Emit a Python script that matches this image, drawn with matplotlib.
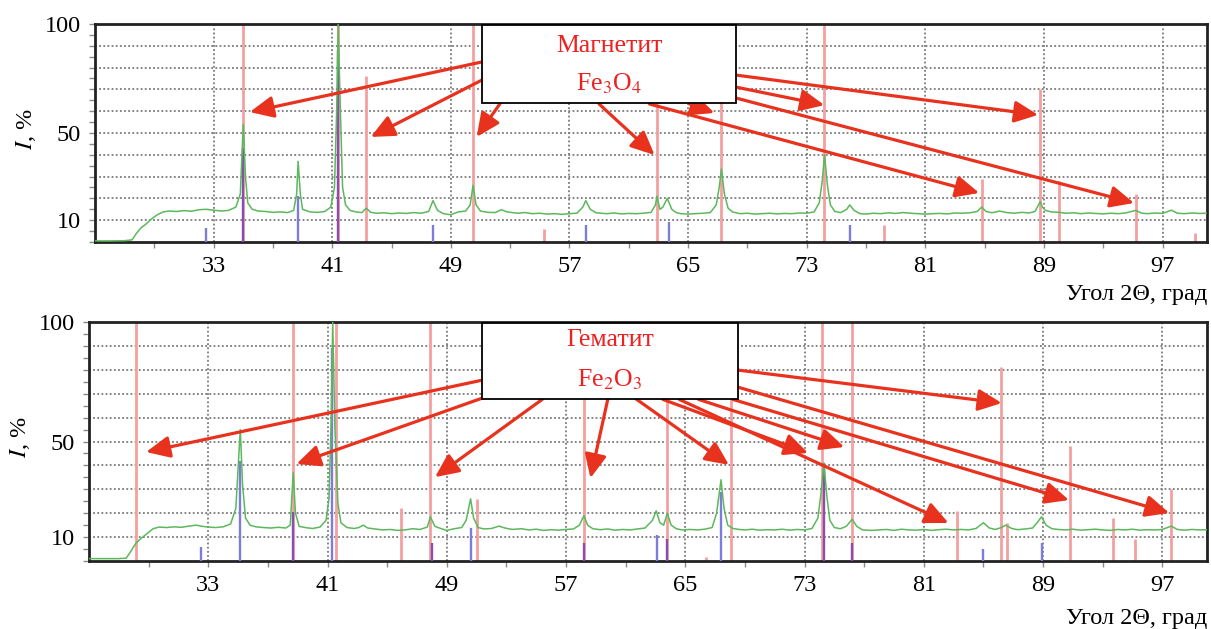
import matplotlib.pyplot as plt
from matplotlib.patches import Rectangle

plt.rcParams['font.family'] = ['Liberation Serif', 'DejaVu Serif']
plt.rcParams['mathtext.fontset'] = 'stix'

# ---------------- magnetite sample (top panel) ----------------
mag_theta = [25.0, 26.0, 27.0, 27.5, 27.8, 28.1, 28.4, 28.8, 29.2, 29.6, 30.0, 30.5, 31.0, 31.5,
             32.0, 32.5, 33.0, 33.5, 34.0, 34.5, 34.8, 35.0, 35.15, 35.3, 35.6, 36.0, 36.5, 37.0,
             37.5, 38.0, 38.4, 38.6, 38.7, 38.85, 39.0, 39.5, 40.0, 40.5, 40.9, 41.15, 41.3, 41.4,
             41.55, 41.7, 41.9, 42.2, 42.6, 43.0, 43.3, 43.6, 44.0, 44.5, 45.0, 45.5, 46.0, 46.5,
             47.0, 47.5, 47.8, 48.1, 48.5, 49.0, 49.5, 50.0, 50.3, 50.5, 50.7, 51.0, 51.5, 52.0,
             52.4, 52.8, 53.5, 54.0, 54.5, 55.0, 55.5, 56.0, 56.5, 57.0, 57.5, 57.9, 58.1, 58.4,
             58.8, 59.5, 60.0, 60.5, 61.0, 61.5, 62.0, 62.5, 62.8, 62.9, 63.1, 63.3, 63.6, 63.9,
             64.2, 64.5, 65.0, 65.5, 66.0, 66.5, 66.9, 67.1, 67.25, 67.45, 67.7, 68.0, 68.5, 69.0,
             69.5, 70.0, 70.5, 71.0, 71.5, 72.0, 72.5, 73.0, 73.5, 73.85, 74.05, 74.2, 74.4, 74.6,
             74.9, 75.3, 75.7, 75.9, 76.2, 76.6, 77.0, 77.5, 78.0, 78.5, 79.0, 79.5, 80.0, 80.5,
             81.0, 81.5, 82.0, 82.5, 83.0, 83.5, 84.0, 84.5, 84.8, 85.1, 85.5, 86.0, 86.5, 87.0,
             87.5, 88.0, 88.4, 88.75, 88.9, 89.1, 89.5, 90.0, 90.5, 91.0, 91.5, 92.0, 92.5, 93.0,
             93.5, 94.0, 94.5, 95.2, 95.6, 96.0, 96.5, 97.0, 97.6, 98.0, 98.5, 99.0, 99.5, 100.0]
mag_int = [0.5, 0.5, 0.6, 1.0, 4.0, 6.5, 8.0, 10.5, 12.5, 13.8, 14.2, 14.0, 14.4, 14.1,
           14.8, 15.0, 14.6, 14.2, 14.5, 16.0, 22.0, 54.0, 30.0, 18.0, 15.0, 14.2, 14.0, 13.6,
           13.8, 13.5, 14.5, 22.0, 37.0, 22.0, 15.0, 13.8, 13.6, 14.0, 16.0, 25.0, 60.0, 100.0,
           60.0, 25.0, 17.0, 14.5, 13.8, 13.5, 15.5, 13.6, 13.2, 13.4, 13.0, 13.3, 13.1, 13.5,
           13.2, 14.0, 19.0, 14.5, 13.0, 12.5, 13.8, 14.2, 17.0, 26.0, 17.0, 14.2, 13.6, 13.5,
           14.8, 13.8, 13.2, 13.5, 13.0, 13.2, 12.8, 13.0, 12.7, 13.0, 13.2, 16.0, 19.0, 15.0,
           13.4, 13.0, 13.3, 12.9, 13.1, 13.0, 13.2, 13.6, 17.0, 21.0, 15.0, 16.0, 20.0, 15.0,
           13.5, 13.0, 12.8, 13.0, 13.2, 13.5, 17.0, 25.0, 33.5, 22.0, 15.5, 13.8, 13.0, 13.2,
           12.8, 13.0, 13.2, 12.9, 13.1, 13.0, 13.3, 13.2, 13.8, 18.0, 28.0, 40.0, 26.0, 17.0,
           14.0, 13.5, 15.0, 17.0, 14.5, 13.0, 12.8, 13.2, 13.0, 13.4, 13.1, 13.5, 13.2, 13.0,
           12.8, 13.0, 13.1, 12.9, 13.3, 13.2, 13.4, 14.0, 16.0, 14.0, 13.4, 14.2, 13.5, 13.2,
           13.6, 13.3, 14.0, 18.5, 16.0, 14.5, 13.8, 13.6, 13.2, 13.4, 13.0, 13.3, 13.1, 12.9,
           13.2, 13.0, 13.3, 14.5, 13.2, 13.0, 13.3, 13.1, 14.6, 13.2, 13.0, 13.3, 13.1, 13.2]

mag_red_pos = [35.0, 41.4, 43.3, 50.5, 55.3, 62.9, 67.25, 74.2, 78.2, 84.8, 88.75, 90.0, 95.2, 99.2]
mag_red_int = [100, 100, 76, 100, 6, 100, 100, 100, 8, 29, 70, 28, 22, 4]
mag_blue_pos = [32.5, 35.0, 38.7, 41.4, 47.8, 58.1, 63.7, 75.9]
mag_blue_int = [6.4, 43, 21, 88, 8, 8, 9, 8]

# arrows: (tail 2theta, tail I, tip 2theta, tip I)
mag_arrows = [(51.1, 82.6, 35.44, 59.6), (51.1, 74.3, 43.6, 48.2), (52.3, 63.3, 50.74, 48.2),
              (59.0, 63.3, 62.74, 39.9), (65.1, 63.3, 66.78, 59.2), (62.4, 63.3, 84.64, 22.5),
              (68.2, 76.6, 88.61, 58.3), (68.2, 71.1, 74.19, 62.8), (68.2, 66.1, 95.08, 17.9)]

# ---------------- hematite sample (bottom panel) ----------------
hem_theta = [25.0, 26.0, 27.0, 27.5, 27.8, 28.15, 28.5, 28.9, 29.3, 29.7, 30.2, 30.7, 31.2, 31.7,
             32.2, 32.6, 33.0, 33.5, 34.0, 34.5, 34.85, 35.15, 35.3, 35.5, 35.8, 36.2, 36.7, 37.2,
             37.7, 38.2, 38.5, 38.7, 38.85, 39.1, 39.6, 40.0, 40.5, 40.9, 41.1, 41.25, 41.35, 41.5,
             41.7, 41.9, 42.3, 42.8, 43.1, 43.4, 43.7, 44.2, 44.7, 45.2, 45.7, 46.2, 46.7, 47.2,
             47.7, 47.9, 48.2, 48.6, 49.0, 49.5, 50.0, 50.3, 50.6, 50.8, 51.1, 51.5, 52.0, 52.5,
             52.9, 53.4, 54.0, 54.5, 55.0, 55.5, 56.0, 56.5, 57.0, 57.5, 57.9, 58.2, 58.45, 58.8,
             59.3, 59.8, 60.3, 60.8, 61.3, 61.8, 62.3, 62.8, 63.05, 63.3, 63.55, 63.8, 64.05, 64.4,
             64.8, 65.3, 65.8, 66.3, 66.8, 67.1, 67.4, 67.6, 67.85, 68.2, 68.6, 69.0, 69.5, 70.0,
             70.5, 71.0, 71.5, 72.0, 72.5, 73.0, 73.5, 73.9, 74.1, 74.3, 74.5, 74.7, 75.0, 75.4,
             75.8, 76.2, 76.5, 76.9, 77.5, 78.0, 78.5, 79.0, 79.5, 80.0, 80.5, 81.0, 81.5, 82.0,
             82.5, 83.0, 83.5, 84.0, 84.5, 85.0, 85.4, 85.8, 86.2, 86.5, 86.9, 87.3, 87.8, 88.3,
             88.6, 88.9, 89.2, 89.6, 90.0, 90.5, 91.0, 91.5, 92.0, 92.5, 93.0, 93.5, 94.0, 94.5,
             95.0, 95.5, 96.0, 96.5, 97.0, 97.6, 98.0, 98.5, 99.0, 99.5, 100.0]
hem_int = [1.0, 1.0, 1.0, 1.2, 4.0, 7.5, 9.5, 11.5, 13.5, 14.2, 14.0, 14.3, 14.1, 14.6,
           15.0, 14.5, 14.2, 14.0, 14.3, 15.5, 22.0, 55.0, 32.0, 18.0, 15.0, 14.3, 14.0, 13.8,
           14.1, 13.8, 15.0, 37.0, 20.0, 14.5, 13.9, 13.6, 14.2, 17.0, 26.0, 60.0, 100.0, 55.0,
           24.0, 16.0, 14.0, 13.6, 14.0, 15.0, 13.8, 13.4, 13.0, 13.2, 12.8, 13.0, 13.5, 13.2,
           14.2, 18.5, 14.5, 13.6, 12.8, 13.5, 14.0, 17.0, 26.0, 18.0, 14.0, 13.4, 13.6, 14.6,
           13.8, 13.2, 13.5, 13.0, 13.3, 12.8, 13.1, 12.9, 13.2, 13.4, 15.0, 19.0, 15.0, 13.5,
           13.1, 13.4, 12.9, 13.2, 13.0, 13.4, 13.8, 17.0, 21.0, 16.0, 15.0, 20.0, 15.0, 13.5,
           13.0, 13.2, 13.0, 13.3, 14.0, 20.0, 34.0, 22.0, 15.0, 13.6, 13.2, 13.0, 13.3, 12.9,
           13.1, 13.0, 13.3, 12.9, 13.2, 13.0, 13.6, 18.0, 28.0, 41.0, 27.0, 17.0, 14.0, 13.5,
           14.5, 17.5, 14.5, 13.0, 12.8, 13.0, 13.2, 12.8, 13.3, 13.0, 12.9, 13.2, 12.8, 13.1,
           13.3, 13.0, 13.2, 13.0, 13.6, 16.0, 13.8, 13.2, 14.0, 15.0, 13.6, 13.1, 13.4, 13.8,
           16.0, 18.5, 15.0, 13.5, 13.2, 13.0, 13.3, 12.9, 13.1, 13.3, 13.0, 12.8, 13.2, 13.0,
           13.3, 12.9, 13.1, 13.0, 13.2, 14.6, 13.2, 12.9, 13.2, 13.0, 13.1]

hem_red_pos = [28.15, 38.7, 41.6, 45.9, 47.9, 51.0, 58.2, 63.8, 66.4, 68.1, 74.2, 76.2,
               83.2, 86.2, 86.6, 90.8, 93.7, 95.2, 97.6]
hem_red_int = [100, 100, 100, 22, 100, 26, 100, 100, 1.5, 100, 100, 100,
               21, 81, 16, 48, 18, 9, 30]
hem_blue_pos = [32.5, 35.15, 38.7, 41.3, 48.0, 50.6, 58.2, 63.1, 63.8, 67.4, 74.3, 76.2, 85.0, 88.9]
hem_blue_int = [6, 42, 20.6, 89, 7.5, 14, 7.5, 11, 9, 29, 41, 7.5, 5, 7.5]

hem_arrows = [(51.4, 75.7, 28.83, 45.6), (51.4, 68.2, 38.92, 40.6), (55.4, 67.6, 48.21, 35.1),
              (59.8, 67.6, 58.64, 34.7), (61.7, 67.8, 67.93, 40.2), (63.5, 67.6, 73.24, 45.2),
              (64.6, 67.6, 82.66, 15.9), (65.9, 67.6, 75.67, 47.7), (68.2, 67.6, 90.74, 25.5),
              (68.5, 72.8, 97.47, 20.1), (68.5, 79.9, 86.23, 66.1)]

RED = '#f4a0a0'
BLUE = '#7c7cda'
PURPLE = '#8a4cb0'
GREEN = '#5cb85c'
ARROW = '#e8321e'
TEXT_RED = '#ee2020'


def draw_panel(ax, theta, inten, red_pos, red_int, blue_pos, blue_int,
               box, name, formula, name_y, formula_y, arrows):
    ax.set_xlim(25, 100)
    ax.set_ylim(0, 100)

    ax.vlines(red_pos, 0, red_int, colors=RED, lw=2.0, zorder=2)
    cols = [PURPLE if min(abs(b - r) for r in red_pos) < 0.2 else BLUE for b in blue_pos]
    ax.vlines(blue_pos, 0, blue_int, colors=cols, lw=1.7, zorder=3)
    ax.plot(theta, inten, color=GREEN, lw=1.1, zorder=4)

    for t0, i0, t1, i1 in arrows:
        ax.annotate('', xy=(t1, i1), xytext=(t0, i0), zorder=5,
                    arrowprops=dict(arrowstyle='-|>,head_length=0.65,head_width=0.3',
                                    color=ARROW, lw=2.3, shrinkA=0, shrinkB=0,
                                    mutation_scale=22))

    x0, x1, y0, y1 = box
    ax.add_patch(Rectangle((x0, y0), x1 - x0, y1 - y0, facecolor='white',
                           edgecolor='black', lw=1.3, zorder=6))
    xc = (x0 + x1) / 2
    ax.text(xc, name_y, name, color=TEXT_RED, fontsize=18.5, ha='center', va='center', zorder=7)
    ax.text(xc, formula_y, formula, color=TEXT_RED, fontsize=18.5, ha='center', va='center', zorder=7)

    ax.set_yticks(range(10, 101, 10))
    ax.set_yticklabels(['10', '', '', '', '50', '', '', '', '', '100'])
    ax.set_yticks(range(0, 101, 5), minor=True)
    ax.set_xticks(range(33, 98, 8))
    ax.set_xticks(range(29, 100, 8), minor=True)
    ax.grid(True, which='major', ls=(0, (1, 1.3)), color='#7a7a7a', lw=1.3, zorder=1)
    ax.set_axisbelow(True)
    ax.tick_params(which='both', direction='out', color='#8a8a8a', length=4, width=1,
                   labelsize=17.5, pad=6)
    for sp in ax.spines.values():
        sp.set_linewidth(2.0)
        sp.set_color('#222222')

    ax.text(1.0, -0.24, 'Угол 2Θ, град', transform=ax.transAxes, fontsize=17.5,
            ha='right', va='center')
    ax.text(-0.062, 0.52, '$I$, %', transform=ax.transAxes, fontsize=17.5,
            ha='center', va='center', rotation=90)


fig = plt.figure(figsize=(12.11, 6.29), dpi=100)
ax1 = fig.add_axes([95 / 1211, 1 - 242 / 629, 1112 / 1211, 218 / 629])
ax2 = fig.add_axes([89 / 1211, 1 - 561 / 629, 1118 / 1211, 239 / 629])

draw_panel(ax1, mag_theta, mag_int, mag_red_pos, mag_red_int, mag_blue_pos, mag_blue_int,
           (51.08, 68.26, 63.8, 99.5), 'Магнетит', 'Fe$_3$O$_4$', 89.8, 72.5, mag_arrows)
draw_panel(ax2, hem_theta, hem_int, hem_red_pos, hem_red_int, hem_blue_pos, hem_blue_int,
           (51.37, 68.53, 67.8, 99.6), 'Гематит', 'Fe$_2$O$_3$', 92.5, 76.0, hem_arrows)

fig.savefig('out.png', dpi=100)
